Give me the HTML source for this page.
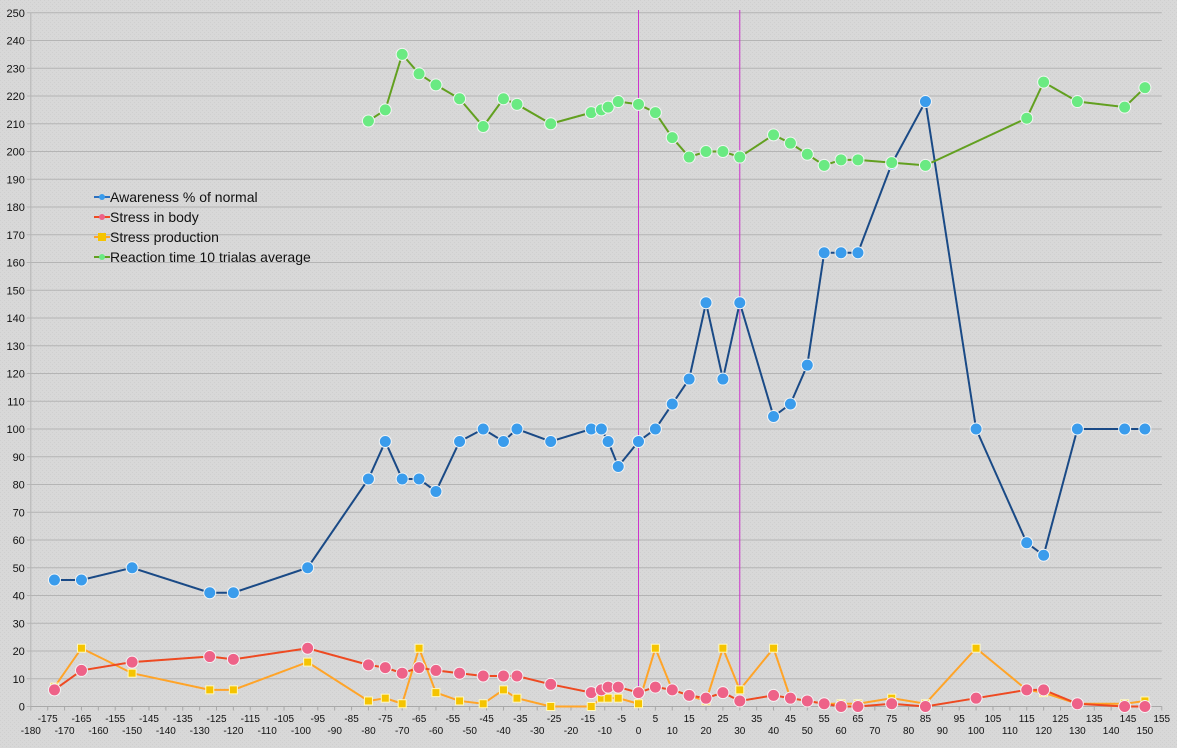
<!DOCTYPE html>
<html><head><meta charset="utf-8"><style>
html,body{margin:0;padding:0;background:#d6d6d6;}
svg{display:block;font-family:"Liberation Sans",sans-serif;}
</style></head><body>
<svg id="chart" width="1177" height="748" xmlns="http://www.w3.org/2000/svg">
<defs>
<pattern id="dots" width="4" height="4" patternUnits="userSpaceOnUse"><rect width="4" height="4" fill="#d8d8d8"/><rect width="1" height="1" fill="#cfcfcf"/><rect x="2" y="2" width="1" height="1" fill="#cfcfcf"/></pattern>
</defs>
<rect width="1177" height="748" fill="url(#dots)"/>
<g id="grid"></g><g id="axes"></g><g id="series"></g><g id="legend"></g>
</svg>
<script>
const xs = [-173,-165,-150,-127,-120,-98,-80,-75,-70,-65,-60,-53,-46,-40,-36,-26,-14,-11,-9,-6,0,5,10,15,20,25,30,40,45,50,55,60,65,75,85,100,115,120,130,144,150];
const awareness = [45.6,45.6,50,41,41,50,82,95.5,82,82,77.5,95.5,100,95.5,100,95.5,100,100,95.5,86.5,95.5,100,109,118,145.5,118,145.5,104.5,109,123,163.5,163.5,163.5,195.5,218,100,59,54.5,100,100,100];
const stressBody = [6,13,16,18,17,21,15,14,12,14,13,12,11,11,11,8,5,6,7,7,5,7,6,4,3,5,2,4,3,2,1,0,0,1,0,3,6,6,1,0,0];
const stressProd = [7,21,12,6,6,16,2,3,1,21,5,2,1,6,3,0,0,3,3,3,1,21,6,4,2,21,6,21,3,2,1,1,1,3,1,21,6,5,1,1,2];
const reactX = [-80,-75,-70,-65,-60,-53,-46,-40,-36,-26,-14,-11,-9,-6,0,5,10,15,20,25,30,40,45,50,55,60,65,75,85,115,120,130,144,150];
const reaction = [211,215,235,228,224,219,209,219,217,210,214,215,216,218,217,214,205,198,200,200,198,206,203,199,195,197,197,196,195,212,225,218,216,223];
const yTicks = [0,10,20,30,40,50,60,70,80,90,100,110,120,130,140,150,160,170,180,190,200,210,220,230,240,250];
const markerLinesX = [0,30];

const NS="http://www.w3.org/2000/svg";
const X0=638.5, XS=3.376, Y0=706.5, YS=2.775;
const sx=v=>X0+v*XS, sy=v=>Y0-v*YS;
function mk(tag,attrs,parent){const e=document.createElementNS(NS,tag);for(const k in attrs)e.setAttribute(k,attrs[k]);parent.appendChild(e);return e;}
const grid=document.getElementById('grid'),axes=document.getElementById('axes'),ser=document.getElementById('series'),leg=document.getElementById('legend');
const left=sx(-180), right=sx(155);
yTicks.forEach(t=>{
  const l=mk('line',{x1:left-4,x2:right,y1:sy(t),y2:sy(t),stroke:'#b4b4b4','stroke-width':1},grid);
  
  
  const tx=mk('text',{x:left-6,y:sy(t)+4,'text-anchor':'end','font-size':11,fill:'#111'},axes);
  tx.textContent=t;
  
  
});
const ya=mk('line',{x1:left,x2:left,y1:sy(250),y2:Y0,stroke:'#b4b4b4'},axes);


const xa=mk('line',{x1:left,x2:right,y1:Y0,y2:Y0,stroke:'#a8a8a8'},axes);


for(let v=-180;v<=155;v+=5){
  const tk=mk('line',{x1:sx(v),x2:sx(v),y1:Y0,y2:Y0+4,stroke:'#a8a8a8'},axes);
  
  
  const odd=((v/5)%2!==0);
  const tx=mk('text',{x:sx(v),y:odd?722:734,'text-anchor':'middle','font-size':10,fill:'#111'},axes);
  tx.textContent=v;
  
  
}
markerLinesX.forEach(v=>{
  const l=mk('line',{x1:sx(v),x2:sx(v),y1:10,y2:Y0,stroke:'#cc33cc','stroke-width':1},grid);
  
  
});
function series(name,X,Y,line,fill,shape,r){
  const g=mk('g',{},ser);
  
  
  const p=mk('polyline',{points:X.map((x,i)=>sx(x)+','+sy(Y[i])).join(' '),fill:'none',stroke:line,'stroke-width':2},g);
  
  
  X.forEach((x,i)=>{
    let m;
    if(shape==='c') m=mk('circle',{cx:sx(x),cy:sy(Y[i]),r:r,fill:fill,stroke:'#f4f4f4','stroke-width':1},g);
    else m=mk('rect',{x:sx(x)-4,y:sy(Y[i])-4,width:8,height:8,fill:fill,stroke:'#fff8c0','stroke-width':1},g);
    
    
  });
}
series('stress-production',xs,stressProd,'#ffa428','#f5c400','s');
series('stress-in-body',xs,stressBody,'#ee4a22','#ee6288','c',6);
series('awareness',xs,awareness,'#1a4a86','#3a9cec','c',6);
series('reaction-time',reactX,reaction,'#62a020','#6aea82','c',6);
const items=[['Awareness % of normal','#2a70c0','#3a9cec','c'],['Stress in body','#ee4a22','#ee6288','c'],['Stress production','#ffa428','#f5c400','s'],['Reaction time 10 trialas average','#62a020','#6aea82','c']];
items.forEach((it,i)=>{
  const y=197+i*20;
  const g=mk('g',{},leg);
  
  
  mk('line',{x1:94,x2:110,y1:y,y2:y,stroke:it[1],'stroke-width':2},g);
  if(it[3]==='c') mk('circle',{cx:102,cy:y,r:3,fill:it[2]},g); else mk('rect',{x:98,y:y-4,width:8,height:8,fill:it[2]},g);
  const t=mk('text',{x:110,y:y+5,'font-size':14,fill:'#111'},g);
  t.textContent=it[0];
});
</script>
</body></html>
